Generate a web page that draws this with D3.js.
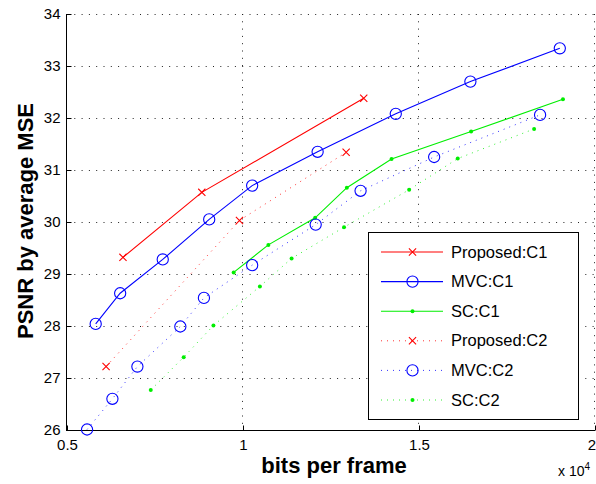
<!DOCTYPE html>
<html>
<head>
<meta charset="utf-8">
<script src="https://cdn.jsdelivr.net/npm/d3@7"></script>
<style>
  html, body { margin: 0; padding: 0; background: #fff; }
  svg { display: block; font-family: "Liberation Sans", Arial, Helvetica, sans-serif; }
</style>
</head>
<body>
<svg id="chart" width="596" height="484"></svg>
<script>
// Rate–distortion curves: bits per frame vs. PSNR (average MSE)
const xTicks = [5000, 10000, 15000, 20000];
const yTicks = [26, 27, 28, 29, 30, 31, 32, 33, 34];

const proposedC1 = [[6590, 29.32], [8830, 30.57], [13430, 32.38]];
const mvcC1 = [[5815, 28.04], [6510, 28.63], [7720, 29.28], [9040, 30.05], [10260, 30.70],
               [12120, 31.35], [14340, 32.08], [16460, 32.70], [19000, 33.34]];
const scC1 = [[9735, 29.03], [10720, 29.56], [12050, 30.08], [12950, 30.66], [14220, 31.21],
              [16480, 31.74], [19090, 32.36]];
const proposedC2 = [[6110, 27.22], [9900, 30.03], [12930, 31.34]];
const mvcC2 = [[5570, 26.01], [6290, 26.60], [7000, 27.22], [8220, 27.99], [8890, 28.54],
               [10260, 29.17], [12065, 29.95], [13340, 30.60], [15430, 31.25], [18440, 32.06]];
const scC2 = [[7380, 26.77], [8315, 27.40], [9160, 28.01], [10480, 28.76], [11380, 29.30],
              [12870, 29.90], [14720, 30.62], [16100, 31.22], [18270, 31.79]];

const seriesNames = ["Proposed:C1", "MVC:C1", "SC:C1", "Proposed:C2", "MVC:C2", "SC:C2"];
const seriesData = [proposedC1, mvcC1, scC1, proposedC2, mvcC2, scC2];
const seriesColor = ["#ff0000", "#0000ff", "#00ee00", "#ff0000", "#0000ff", "#00ee00"];
const seriesMarker = ["x", "o", "dot", "x", "o", "dot"];
const seriesDotted = [false, false, false, true, true, true];

const svg = d3.select("#chart");
const plot = { left: 67, right: 595, top: 14, bottom: 430 };

const x = d3.scaleLinear().domain([5000, 20000]).range([plot.left, plot.right]);
const y = d3.scaleLinear().domain([26, 34]).range([plot.bottom, plot.top]);

// dotted grid
const grid = svg.append("g");
grid.selectAll("line.gx").data(xTicks.slice(1)).join("line")
  .attr("x1", d => Math.round(x(d)) - 0.5).attr("x2", d => Math.round(x(d)) - 0.5)
  .attr("y1", plot.top).attr("y2", plot.bottom)
  .attr("stroke", "#222").attr("stroke-width", 1).attr("stroke-dasharray", "1,6.3");
grid.selectAll("line.gy").data(yTicks).join("line")
  .attr("y1", d => Math.round(y(d)) + 0.5).attr("y2", d => Math.round(y(d)) + 0.5)
  .attr("x1", plot.left).attr("x2", plot.right)
  .attr("stroke", "#222").attr("stroke-width", 1).attr("stroke-dasharray", "1,6.3");

// axes (left and bottom, inward ticks)
const xAxis = d3.axisBottom(x).tickValues(xTicks).tickSize(-5).tickPadding(9)
  .tickFormat(d => d3.format("~g")(d / 10000));
const yAxis = d3.axisLeft(y).tickValues(yTicks).tickSize(-5).tickPadding(6)
  .tickFormat(d3.format("d"));

const gx = svg.append("g").attr("transform", `translate(0,${plot.bottom + 0.5})`).call(xAxis);
const gy = svg.append("g").attr("transform", `translate(${plot.left - 0.5},0)`).call(yAxis);
[gx, gy].forEach(g => {
  g.selectAll(".tick line").attr("stroke", "#000");
  g.selectAll(".tick text").attr("fill", "#000").attr("font-size", 15)
    .attr("font-family", "\"Liberation Sans\", Arial, sans-serif");
});
gx.select(".domain").remove();
gy.select(".domain").remove();
// keep the last x tick label inside the frame
gx.selectAll(".tick text").filter(d => d === 20000).attr("text-anchor", "end").attr("dx", 0.5);

svg.append("line").attr("x1", plot.left - 0.5).attr("x2", plot.left - 0.5)
  .attr("y1", plot.top).attr("y2", plot.bottom + 1).attr("stroke", "#000");
svg.append("line").attr("x1", plot.left - 1).attr("x2", plot.right)
  .attr("y1", plot.bottom + 0.5).attr("y2", plot.bottom + 0.5).attr("stroke", "#000");

// exponent label
const expo = svg.append("text").attr("x", 558).attr("y", 476).attr("font-size", 14).attr("fill", "#000");
expo.append("tspan").text("x 10");
expo.append("tspan").attr("dy", -6).attr("font-size", 10).text("4");

// axis titles
svg.append("text").attr("x", 334).attr("y", 473).attr("text-anchor", "middle")
  .attr("font-size", 22).attr("font-weight", "bold").attr("fill", "#000").text("bits per frame");
svg.append("text").attr("transform", "translate(33,221) rotate(-90)").attr("text-anchor", "middle")
  .attr("font-size", 22).attr("font-weight", "bold").attr("fill", "#000").text("PSNR by average MSE");

// marker drawing helper
function drawMarker(g, kind, color, cx, cy) {
  if (kind === "o") {
    g.append("circle").attr("cx", cx).attr("cy", cy).attr("r", 5.6)
      .attr("fill", "none").attr("stroke", color).attr("stroke-width", 1.1);
  } else if (kind === "x") {
    const s = 3.6;
    g.append("path").attr("d", `M${cx - s},${cy - s}L${cx + s},${cy + s}M${cx - s},${cy + s}L${cx + s},${cy - s}`)
      .attr("stroke", color).attr("stroke-width", 1.1).attr("fill", "none");
  } else {
    g.append("circle").attr("cx", cx).attr("cy", cy).attr("r", 2)
      .attr("fill", color).attr("stroke", "none");
  }
}

const line = d3.line().x(d => x(d[0])).y(d => y(d[1]));
const marks = svg.append("g");
seriesData.forEach((data, i) => {
  const g = marks.append("g");
  g.append("path").datum(data).attr("d", line)
    .attr("fill", "none").attr("stroke", seriesColor[i])
    .attr("stroke-width", seriesDotted[i] ? 1 : 1.1)
    .attr("stroke-dasharray", seriesDotted[i] ? "1,5" : null)
    .attr("opacity", seriesDotted[i] ? 0.8 : 1);
  data.forEach(d => drawMarker(g, seriesMarker[i], seriesColor[i], x(d[0]), y(d[1])));
});

// legend
const lg = svg.append("g");
lg.append("rect").attr("x", 368.5).attr("y", 232.5).attr("width", 210).attr("height", 187)
  .attr("fill", "#fff").attr("stroke", "#000").attr("stroke-width", 1);
const rowY = d3.scaleLinear().domain([0, 5]).range([252, 400]);
seriesNames.forEach((name, i) => {
  const yy = rowY(i);
  lg.append("line").attr("x1", 381).attr("x2", 443).attr("y1", yy).attr("y2", yy)
    .attr("stroke", seriesColor[i]).attr("stroke-width", seriesDotted[i] ? 1 : 1.1)
    .attr("stroke-dasharray", seriesDotted[i] ? "1,5" : null)
    .attr("opacity", seriesDotted[i] ? 0.8 : 1);
  drawMarker(lg, seriesMarker[i], seriesColor[i], 412.5, yy);
  lg.append("text").attr("x", 451).attr("y", yy + 5.5).attr("font-size", 16.5)
    .attr("fill", "#000").text(name);
});
</script>
</body>
</html>
